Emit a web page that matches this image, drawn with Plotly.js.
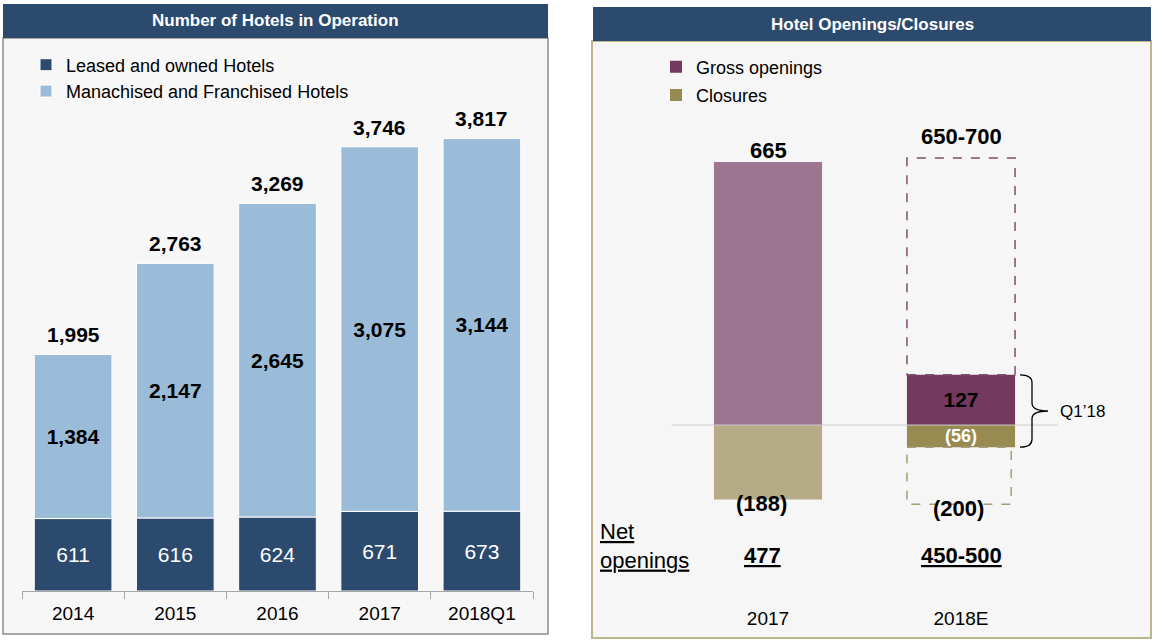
<!DOCTYPE html>
<html>
<head>
<meta charset="utf-8">
<script src="https://cdn.plot.ly/plotly-3.0.1.min.js"></script>
<style>html,body{margin:0;padding:0;background:#fff;}#chart{width:1157px;height:642px;}</style>
</head>
<body>
<div id="chart"></div>
<script>
// ---------- DATA ----------
const years = ['2014', '2015', '2016', '2017', '2018Q1'];
const leasedOwned = [611, 616, 624, 671, 673];
const manachisedFranchised = [1384, 2147, 2645, 3075, 3144];

const periods = ['2017', '2018E'];
const grossOpenings = [665, 127];     // 2017 full year, 2018 Q1 actual
const closures = [-188, -56];         // 2017 full year, 2018 Q1 actual
const grossEstimateLabel = '650-700'; // 2018E full-year range
const grossEstimateMid = 675;
const closuresEstimate = -200;        // 2018E full year
const netEstimateLabel = '450-500';

// ---------- HELPERS ----------
const W = 1157, H = 642;
const px = x => x / W;
const py = y => 1 - y / H;
const FONT = 'Liberation Sans, Arial, sans-serif';
const fmt = v => v.toLocaleString('en-US');
const paren = v => '(' + fmt(Math.abs(v)) + ')';

const totals = leasedOwned.map((v, i) => v + manachisedFranchised[i]);
const net2017 = grossOpenings[0] + closures[0];

const C = {
  header: '#2c4a6e',
  dark: '#2c4a6e', light: '#9bbcd8',
  gross17: '#9c7590', grossQ1: '#74395f',
  clos17: '#b5ab87', closQ1: '#978b52'
};

// ---------- TRACES ----------
const traces = [
  {
    type: 'bar', x: years, y: leasedOwned, name: 'Leased and owned Hotels',
    xaxis: 'x', yaxis: 'y', width: 0.76, legend: 'legend',
    marker: { color: C.dark, line: { color: '#ffffff', width: 1 } },
    text: leasedOwned.map(fmt), textposition: 'inside', insidetextanchor: 'middle',
    textangle: 0, constraintext: 'none',
    textfont: { family: FONT, size: 21, color: '#ffffff' },
    hoverinfo: 'x+y'
  },
  {
    type: 'bar', x: years, y: manachisedFranchised, name: 'Manachised and Franchised Hotels',
    xaxis: 'x', yaxis: 'y', width: 0.76, legend: 'legend',
    marker: { color: C.light, line: { color: '#ffffff', width: 1 } },
    text: manachisedFranchised.map(fmt), textposition: 'inside', insidetextanchor: 'middle',
    textangle: 0, constraintext: 'none',
    textfont: { family: FONT, size: 21, color: '#000000', weight: 'bold' },
    hoverinfo: 'x+y'
  },
  {
    type: 'bar', x: [periods[0]], y: [grossOpenings[0]], name: 'Gross openings 2017',
    xaxis: 'x2', yaxis: 'y2', width: 0.56, showlegend: false,
    marker: { color: C.gross17 }, hoverinfo: 'x+y'
  },
  {
    type: 'bar', x: [periods[1]], y: [grossOpenings[1]], name: 'Gross openings',
    xaxis: 'x2', yaxis: 'y2', width: 0.56, legend: 'legend2', legendgroup: 'g1',
    marker: { color: C.grossQ1 },
    text: [fmt(grossOpenings[1])], textposition: 'inside', insidetextanchor: 'middle',
    textangle: 0, constraintext: 'none',
    textfont: { family: FONT, size: 21, color: '#000000', weight: 'bold' },
    hoverinfo: 'x+y'
  },
  {
    type: 'bar', x: [periods[0]], y: [closures[0]], name: 'Closures 2017',
    xaxis: 'x2', yaxis: 'y2', width: 0.56, showlegend: false,
    marker: { color: C.clos17 }, hoverinfo: 'x+y'
  },
  {
    type: 'bar', x: [periods[1]], y: [closures[1]], name: 'Closures',
    xaxis: 'x2', yaxis: 'y2', width: 0.56, legend: 'legend2', legendgroup: 'g2',
    marker: { color: C.closQ1 },
    text: [paren(closures[1])], textposition: 'inside', insidetextanchor: 'middle',
    textangle: 0, constraintext: 'none',
    textfont: { family: FONT, size: 18, color: '#ffffff', weight: 'bold' },
    hoverinfo: 'x+y'
  }
];

// ---------- SHAPES ----------
const shapes = [
  // panel boxes
  { type: 'rect', xref: 'paper', yref: 'paper', layer: 'below',
    x0: px(3), x1: px(548), y0: py(634), y1: py(38),
    fillcolor: '#f7f7f7', line: { color: '#8c8c8c', width: 1.5 } },
  { type: 'rect', xref: 'paper', yref: 'paper', layer: 'below',
    x0: px(592), x1: px(1151), y0: py(638), y1: py(41),
    fillcolor: '#f6f6f6', line: { color: '#bfb58c', width: 2 } },
  // header bars
  { type: 'rect', xref: 'paper', yref: 'paper', layer: 'below',
    x0: px(3), x1: px(548), y0: py(38), y1: py(4),
    fillcolor: C.header, line: { width: 0 } },
  { type: 'rect', xref: 'paper', yref: 'paper', layer: 'below',
    x0: px(593), x1: px(1151), y0: py(41), y1: py(7),
    fillcolor: C.header, line: { width: 0 } },
  // zero line right panel
  { type: 'line', xref: 'x2 domain', yref: 'y2', layer: 'above',
    x0: 0, x1: 1, y0: 0, y1: 0, line: { color: '#cccccc', width: 1 } },
  // dashed full-year estimate boxes
  { type: 'rect', xref: 'x2', yref: 'y2', layer: 'above',
    x0: 1 - 0.28, x1: 1 + 0.28, y0: grossOpenings[1], y1: grossEstimateMid,
    fillcolor: 'rgba(0,0,0,0)', line: { color: '#7d4f71', width: 1.5, dash: 'dash' } },
  { type: 'rect', xref: 'x2', yref: 'y2', layer: 'above',
    x0: 1 - 0.28, x1: 1 + 0.26, y0: closures[1], y1: closuresEstimate,
    fillcolor: 'rgba(0,0,0,0)', line: { color: '#a59e78', width: 1.5, dash: 'dash' } }
];

// brace for Q1'18
(function () {
  const top = grossOpenings[1], bot = closures[1], mid = (top + bot) / 2, d = 20;
  const x0 = px(1020), x1 = px(1032), x2 = px(1048);
  const path = `M ${x0},${top} Q ${x1},${top} ${x1},${top - d} L ${x1},${mid + d} ` +
    `Q ${x1},${mid} ${x2},${mid} Q ${x1},${mid} ${x1},${mid - d} ` +
    `L ${x1},${bot + d} Q ${x1},${bot} ${x0},${bot}`;
  shapes.push({ type: 'path', xref: 'paper', yref: 'y2', path: path,
    line: { color: '#000000', width: 1.3 } });
})();

// ---------- ANNOTATIONS ----------
const ann = (o) => Object.assign({ showarrow: false, xanchor: 'center', yanchor: 'middle' }, o);
const annotations = [
  ann({ xref: 'paper', yref: 'paper', x: px(275.5), y: py(21), text: '<b>Number of Hotels in Operation</b>',
    font: { family: FONT, size: 17, color: '#ffffff' } }),
  ann({ xref: 'paper', yref: 'paper', x: px(872), y: py(24), text: '<b>Hotel Openings/Closures</b>',
    font: { family: FONT, size: 17, color: '#ffffff' } })
];
years.forEach((yr, i) => {
  annotations.push(ann({ xref: 'x', yref: 'y', x: i, y: totals[i], yanchor: 'bottom', yshift: 6,
    text: '<b>' + fmt(totals[i]) + '</b>',
    font: { family: FONT, size: 21, color: '#000000' } }));
});
annotations.push(
  ann({ xref: 'x2', yref: 'y2', x: 0, y: grossOpenings[0], yanchor: 'bottom', yshift: -3,
    text: '<b>' + fmt(grossOpenings[0]) + '</b>',
    font: { family: FONT, size: 22, color: '#000000' } }),
  ann({ xref: 'x2', yref: 'y2', x: 1, y: grossEstimateMid, yanchor: 'bottom', yshift: 7,
    text: '<b>' + grossEstimateLabel + '</b>',
    font: { family: FONT, size: 22, color: '#000000' } }),
  ann({ xref: 'x2', yref: 'y2', x: 0, y: closures[0], yshift: -4, xshift: -7,
    text: '<b>' + paren(closures[0]) + '</b>',
    font: { family: FONT, size: 22, color: '#000000' } }),
  ann({ xref: 'x2', yref: 'y2', x: 1, y: closuresEstimate, yshift: -4, xshift: -3,
    text: '<b>' + paren(closuresEstimate) + '</b>',
    font: { family: FONT, size: 22, color: '#000000' } }),
  ann({ xref: 'paper', yref: 'paper', x: px(598), y: py(546), xanchor: 'left', align: 'left',
    text: '<u>Net</u><br><u>openings</u>',
    font: { family: FONT, size: 22, color: '#000000' } }),
  ann({ xref: 'x2', yref: 'paper', x: 0, y: py(555), xshift: -6,
    text: '<b><u>' + fmt(net2017) + '</u></b>',
    font: { family: FONT, size: 22, color: '#000000' } }),
  ann({ xref: 'x2', yref: 'paper', x: 1, y: py(555),
    text: '<b><u>' + netEstimateLabel + '</u></b>',
    font: { family: FONT, size: 22, color: '#000000' } }),
  ann({ xref: 'paper', yref: 'y2', x: px(1058), y: (grossOpenings[1] + closures[1]) / 2, xanchor: 'left',
    text: 'Q1’18', font: { family: FONT, size: 17, color: '#000000' } })
);

// ---------- LAYOUT ----------
const layout = {
  width: W, height: H,
  margin: { l: 0, r: 0, t: 0, b: 0 },
  paper_bgcolor: '#ffffff', plot_bgcolor: 'rgba(0,0,0,0)',
  barmode: 'relative', bargap: 0.24,
  font: { family: FONT, color: '#000000' },
  xaxis: {
    domain: [px(22), px(533)], type: 'category', range: [-0.5, 4.5],
    showline: true, linecolor: '#a6a6a6', linewidth: 1,
    ticks: 'outside', tickson: 'boundaries', ticklen: 7, tickcolor: '#a6a6a6',
    ticklabelstandoff: 5,
    showgrid: false, zeroline: false, fixedrange: true,
    tickfont: { family: FONT, size: 19, color: '#000000' }
  },
  yaxis: {
    domain: [py(591), py(93)], range: [0, 4200], visible: false, fixedrange: true
  },
  xaxis2: {
    domain: [px(671.5), px(1057.5)], type: 'category', range: [-0.5, 1.5], anchor: 'y2',
    showline: false, ticks: '', showgrid: false, zeroline: false, fixedrange: true,
    tickfont: { family: FONT, size: 19, color: '#000000' }
  },
  yaxis2: {
    domain: [py(605), py(128.4)], range: [-455, 750], anchor: 'x2', visible: false,
    showgrid: false, zeroline: false, fixedrange: true
  },
  legend: {
    x: px(26), y: py(46.5), xanchor: 'left', yanchor: 'top',
    bgcolor: 'rgba(0,0,0,0)', font: { family: FONT, size: 18, color: '#000000' },
    traceorder: 'normal'
  },
  legend2: {
    x: px(656), y: py(48.5), xanchor: 'left', yanchor: 'top',
    bgcolor: 'rgba(0,0,0,0)', font: { family: FONT, size: 18, color: '#000000' },
    traceorder: 'grouped', tracegroupgap: 2
  },
  shapes: shapes,
  annotations: annotations,
  showlegend: true
};

Plotly.newPlot('chart', traces, layout, { displayModeBar: false, staticPlot: true });
</script>
</body>
</html>
